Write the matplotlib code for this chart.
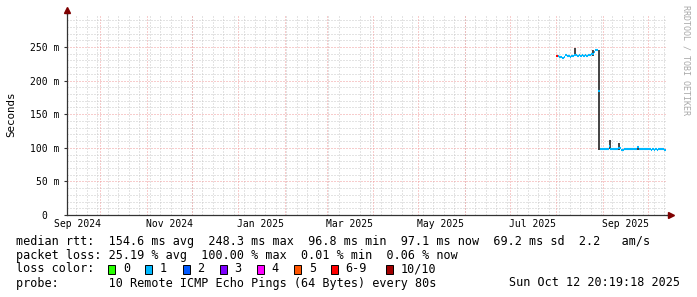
import matplotlib
matplotlib.use('Agg')
import matplotlib.pyplot as plt
import matplotlib.dates as mdates
import matplotlib.ticker as mticker
import pandas as pd
from datetime import datetime

W, H = 697, 297

# median rtt per day (ms), 2025-08-01 .. 2025-10-12
days = pd.date_range('2025-08-01', '2025-10-12', freq='D')
median_ms = [
    237, 236, 235.5, 235, 233.5, 235, 237.5, 236, 237, 234.5,
    236.5, 237, 238.5, 237.5, 236.5, 237.5, 237, 237.5, 236.5, 237.5,
    237, 237.5, 238, 239, 240, 243, 246, 246, 185, 97.5,
    97.5, 97.5, 97.5, 97.5, 97.5, 102, 98.5, 97.5, 97.5, 97.5,
    97.5, 100, 99.5, 96.5, 96.5, 97.5, 97.5, 97.5, 97.5, 97.5,
    97.5, 97.5, 97.5, 97.5, 101, 97.5, 97.5, 97.5, 97.5, 97.5,
    97.5, 97.5, 97.5, 96.5, 97.5, 96.5, 97.5, 96.5, 97.5, 97.5,
    97.5, 97.5, 97,
]
# loss class per day (index into loss_colors)
loss_idx = [
    6, 1, 1, 1, 1, 1, 1, 1, 1, 1,
    1, 1, 1, 1, 1, 1, 1, 1, 1, 1,
    1, 1, 1, 1, 1, 1, 1, 1, 1, 1,
    1, 1, 1, 1, 1, 1, 1, 1, 1, 1,
    1, 1, 1, 1, 1, 1, 1, 1, 1, 1,
    1, 1, 1, 1, 1, 1, 1, 1, 1, 1,
    1, 1, 1, 1, 1, 1, 1, 1, 1, 1,
    1, 1, 1,
]

# smoke (ping spread) where it is visible
smoke_dates = ['2025-08-13', '2025-08-25', '2025-08-29', '2025-09-05', '2025-09-11', '2025-09-24']
smoke_lo = [237, 237, 97, 98, 97, 97]
smoke_hi = [249, 246, 246, 111, 107, 103]

loss_labels = ['0', '1', '2', '3', '4', '5', '6-9', '10/10']
loss_colors = ['#26ff00', '#00b8ff', '#0059ff', '#7e00ff', '#ff00ff', '#ff5500', '#ff0000', '#a10000']

stats_rtt = "median rtt:  154.6 ms avg  248.3 ms max  96.8 ms min  97.1 ms now  69.2 ms sd  2.2   am/s"
stats_loss = "packet loss: 25.19 % avg  100.00 % max  0.01 % min  0.06 % now"
probe_txt = "probe:       10 Remote ICMP Echo Pings (64 Bytes) every 80s"
stamp_txt = "Sun Oct 12 20:19:18 2025"

mono = 'DejaVu Sans Mono'
grey = '#c8c8c8'
red = '#f09a9a'
axcol = '#333333'
arrowcol = '#7f0000'

def fx(x):
    return x / W

def fy(y):
    return 1 - y / H

fig = plt.figure(figsize=(W / 100, H / 100), dpi=100)
fig.patch.set_facecolor('white')
ax = fig.add_axes([fx(67), fy(215), 600 / W, 201.3 / H])

xmin = datetime(2024, 9, 8, 19)
xmax = datetime(2025, 10, 13, 19)
ax.set_xlim(xmin, xmax)
ax.set_ylim(0, 0.2995)

# grid
dots = (0, (1, 2))
ax.yaxis.set_major_locator(mticker.MultipleLocator(0.05))
ax.yaxis.set_minor_locator(mticker.MultipleLocator(0.01))
ax.yaxis.set_major_formatter(mticker.FuncFormatter(
    lambda v, p: '0  ' if abs(v) < 1e-9 else '%d m' % round(v * 1000)))
ax.grid(which='minor', axis='y', color=grey, ls=dots, lw=0.72)
ax.grid(which='major', axis='y', color=red, ls=dots, lw=0.72)

ax.xaxis.set_major_locator(mdates.MonthLocator(bymonth=(1, 3, 5, 7, 9, 11), bymonthday=16))
ax.xaxis.set_major_formatter(mdates.DateFormatter('%b %Y'))
ax.xaxis.set_minor_locator(mdates.WeekdayLocator(byweekday=mdates.SU))
ax.grid(which='minor', axis='x', color=grey, ls=dots, lw=0.72)
month_starts = mdates.MonthLocator().tick_values(xmin, xmax)
ax.vlines(month_starts, 0, 0.2995, colors=red, linestyles=dots, lw=0.72, zorder=1)
ax.set_axisbelow(True)

# smoke
sx = mdates.date2num(pd.to_datetime(smoke_dates)) + 0.5
ax.vlines(sx, [v / 1000 for v in smoke_lo], [v / 1000 for v in smoke_hi],
          colors='#111111', lw=1.1, zorder=3)

# median line coloured by loss
x0 = mdates.date2num(days)
cols = [loss_colors[i] for i in loss_idx]
ax.hlines([v / 1000 for v in median_ms], x0, x0 + 1, colors=cols, lw=1.5, zorder=4)

# axes look
for s in ['top', 'right']:
    ax.spines[s].set_visible(False)
for s in ['left', 'bottom']:
    ax.spines[s].set_color(axcol)
    ax.spines[s].set_linewidth(0.9)
ax.tick_params(axis='y', which='major', length=2, width=0.8, color=axcol, pad=3.6,
               labelsize=7, labelfontfamily=mono)
ax.tick_params(axis='y', which='minor', length=0)
ax.tick_params(axis='x', which='both', length=0, pad=3, labelsize=7, labelfontfamily=mono)

ax.plot([0, 0], [1, 1.02], transform=ax.transAxes, color=axcol, lw=0.9, clip_on=False)
ax.plot([1, 1.006], [0, 0], transform=ax.transAxes, color=axcol, lw=0.9, clip_on=False)
ax.plot([0], [1.017], marker='^', ms=4, color=arrowcol, transform=ax.transAxes, clip_on=False)
ax.plot([1.006], [0], marker='>', ms=4, color=arrowcol, transform=ax.transAxes, clip_on=False)

fig.text(fx(11), fy(114), 'Seconds', rotation=90, ha='center', va='center',
         family=mono, fontsize=7.8)
fig.text(fx(686), fy(60), 'RRDTOOL / TOBI OETIKER', rotation=270, ha='center', va='center',
         family=mono, fontsize=6, color='#a8a8a8')

# legend block
fs = 8.5
fig.text(fx(16), fy(241), stats_rtt, family=mono, fontsize=fs, va='center')
fig.text(fx(16), fy(255), stats_loss, family=mono, fontsize=fs, va='center')
fig.text(fx(16), fy(269), 'loss color:', family=mono, fontsize=fs, va='center')
box_x = [108, 145, 182.5, 219.5, 256.5, 294, 330.5, 385.5]
for bx, lab, c in zip(box_x, loss_labels, loss_colors):
    fig.patches.append(plt.Rectangle((fx(bx), fy(274)), 7 / W, 9 / H, transform=fig.transFigure,
                                     facecolor=c, edgecolor='black', lw=0.7))
    fig.text(fx(bx + 15), fy(269), lab, family=mono, fontsize=fs, va='center')
fig.text(fx(16), fy(283), probe_txt, family=mono, fontsize=fs, va='center')
fig.text(fx(680), fy(283), stamp_txt, family=mono, fontsize=fs, va='center', ha='right')

fig.savefig('out.png', dpi=100, facecolor='white')
